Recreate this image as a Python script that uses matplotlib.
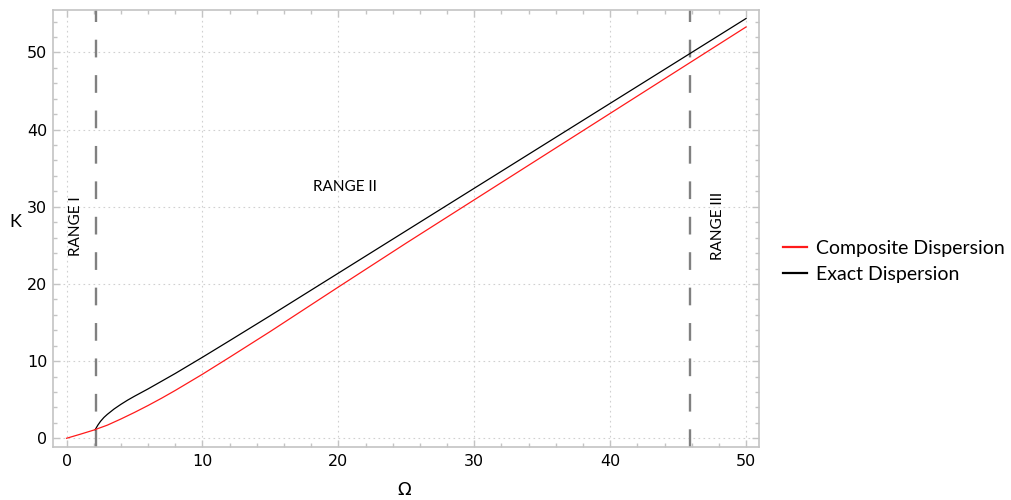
import numpy as np
import matplotlib
matplotlib.use("Agg")
import matplotlib.pyplot as plt
from matplotlib.ticker import MultipleLocator

# Composite dispersion K(Omega)
omega_comp = [0, 1, 2, 3, 4, 5, 6, 7, 8, 9, 10, 12, 15, 20, 25, 30, 35, 40, 45, 50]
k_comp = [0, 0.52, 1.06, 1.7, 2.5, 3.35, 4.25, 5.2, 6.2, 7.25, 8.3, 10.5, 13.85,
          19.6, 25.3, 30.9, 36.5, 42.1, 47.7, 53.3]

# Exact dispersion K(Omega), branching off near the first cut-off
omega_exact = [2.1, 2.3, 2.5, 2.75, 3.0, 3.5, 4.0, 4.5, 5.0, 6.0, 7.0, 8.0, 9.0, 10,
               12, 15, 20, 25, 30, 35, 40, 45, 50]
k_exact = [1.1, 1.7, 2.2, 2.7, 3.1, 3.8, 4.4, 4.95, 5.45, 6.4, 7.4, 8.4, 9.45, 10.5,
           12.65, 15.9, 21.4, 26.9, 32.4, 37.9, 43.4, 48.9, 54.4]

# Range boundaries
range_bounds = [2.2, 45.9]
range_labels = ["RANGE I", "RANGE II", "RANGE III"]

fig = plt.figure(figsize=(10.11, 5.0), dpi=100)
ax = fig.add_axes([0.0524, 0.1054, 0.6983, 0.8746])

frame_col = "#c4c4c4"
label_font = "Lato"

ax.plot(omega_exact, k_exact, color="black", lw=0.9, label="Exact Dispersion", zorder=3)
ax.plot(omega_comp, k_comp, color="#ff1a1a", lw=0.9, label="Composite Dispersion", zorder=4)

for xb in range_bounds:
    ax.axvline(xb, color="#808080", lw=1.7, dashes=(7.5, 7.5), zorder=2)

ax.text(0.7, 27.5, range_labels[0], rotation=90, ha="center", va="center",
        fontsize=11, family=label_font)
ax.text(20.5, 32.6, range_labels[1], ha="center", va="center",
        fontsize=11, family=label_font)
ax.text(47.9, 27.5, range_labels[2], rotation=90, ha="center", va="center",
        fontsize=11, family=label_font)

ax.set_xlim(-1.0, 50.95)
ax.set_ylim(-1.17, 55.5)

ax.xaxis.set_major_locator(MultipleLocator(10))
ax.xaxis.set_minor_locator(MultipleLocator(2))
ax.yaxis.set_major_locator(MultipleLocator(10))
ax.yaxis.set_minor_locator(MultipleLocator(2))

ax.tick_params(which="both", direction="in", color=frame_col, top=True, right=True,
               labelsize=11.5, labelcolor="black")
ax.tick_params(which="major", length=5, width=1)
ax.tick_params(which="minor", length=3, width=1)
ax.tick_params(axis="x", pad=5)
ax.tick_params(axis="y", pad=4)

for sp in ax.spines.values():
    sp.set_color(frame_col)
    sp.set_linewidth(1.2)

ax.grid(True, which="major", color="#d0d0d0", linestyle=(0, (1.5, 3)), lw=0.8)
ax.set_axisbelow(True)

ax.set_xlabel("Ω", fontsize=13, va="center")
ax.xaxis.set_label_coords(0.497, -0.098)
ax.set_ylabel("K", fontsize=13, rotation=0, family=label_font, va="center", ha="center")
ax.yaxis.set_label_coords(-0.054, 0.515)

h, l = ax.get_legend_handles_labels()
leg = fig.legend(h[::-1], l[::-1], loc="center left", bbox_to_anchor=(0.757, 0.477),
                 frameon=False, handlelength=1.25, handletextpad=0.45,
                 labelspacing=0.45, prop={"family": label_font, "size": 14})
for line in leg.get_lines():
    line.set_linewidth(1.6)

fig.savefig("out.png", dpi=100)
